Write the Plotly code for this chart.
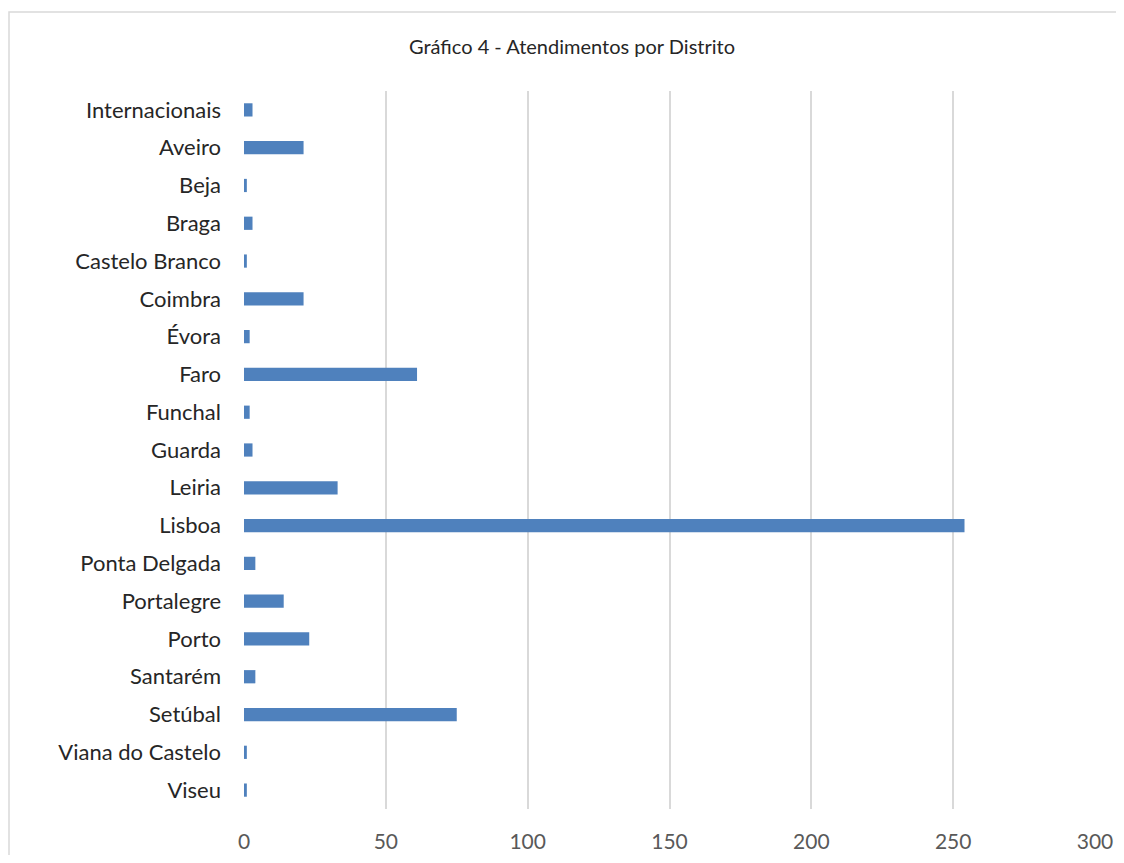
import plotly.graph_objects as go

categories = ["Internacionais", "Aveiro", "Beja", "Braga", "Castelo Branco", "Coimbra",
              "Évora", "Faro", "Funchal", "Guarda", "Leiria", "Lisboa", "Ponta Delgada",
              "Portalegre", "Porto", "Santarém", "Setúbal", "Viana do Castelo", "Viseu"]
values = [3, 21, 1, 3, 1, 21, 2, 61, 2, 3, 33, 254, 4, 14, 23, 4, 75, 1, 1]
x_ticks = [0, 50, 100, 150, 200, 250, 300]
title_text = "Gráfico 4 - Atendimentos por Distrito"

# page has an 8px body margin; figure coordinates = page coordinates - 8
OFF = 8
W, H = 1124 - 2 * OFF, 863 - 2 * OFF
L = 244 - OFF
T = 91 - OFF
R = W - (1095 - OFF)
B = H - (809 - OFF)
pw, ph = W - L - R, H - T - B

fig = go.Figure(go.Bar(
    x=values, y=categories, orientation="h",
    marker=dict(color="#4f81bd", line=dict(width=0)),
    width=0.35,
))

fig.update_layout(
    width=W, height=H,
    margin=dict(l=L, r=R, t=T, b=B),
    paper_bgcolor="white", plot_bgcolor="white",
    font=dict(family="Lato, Noto Sans, sans-serif", color="#404040"),
    title=dict(text=title_text, x=(572 - OFF) / W, xref="container",
               y=1 - (47 - OFF) / H, yanchor="middle", xanchor="center",
               font=dict(size=20, color="#262626")),
    showlegend=False,
)
fig.update_xaxes(
    range=[0, 300], tickvals=x_ticks, showgrid=True, gridcolor="#d9d9d9", gridwidth=1.5,
    zeroline=False, showline=False, ticks="", automargin=False,
    tickfont=dict(size=21, color="#595959"), ticklabelstandoff=18,
)
fig.update_yaxes(
    categoryorder="array", categoryarray=categories, autorange="reversed",
    showgrid=False, zeroline=False, showline=False, ticks="", automargin=False,
    tickfont=dict(size=22, color="#262626"), ticklabelstandoff=22,
)
fig.add_shape(type="rect", xref="paper", yref="paper",
              x0=(9 - 244) / pw, x1=(1134 - 244) / pw,
              y0=(809 - 880) / ph, y1=(809 - 12) / ph,
              line=dict(color="#d9d9d9", width=1.5), fillcolor="rgba(0,0,0,0)", layer="below")

fig.write_html("out.html")
